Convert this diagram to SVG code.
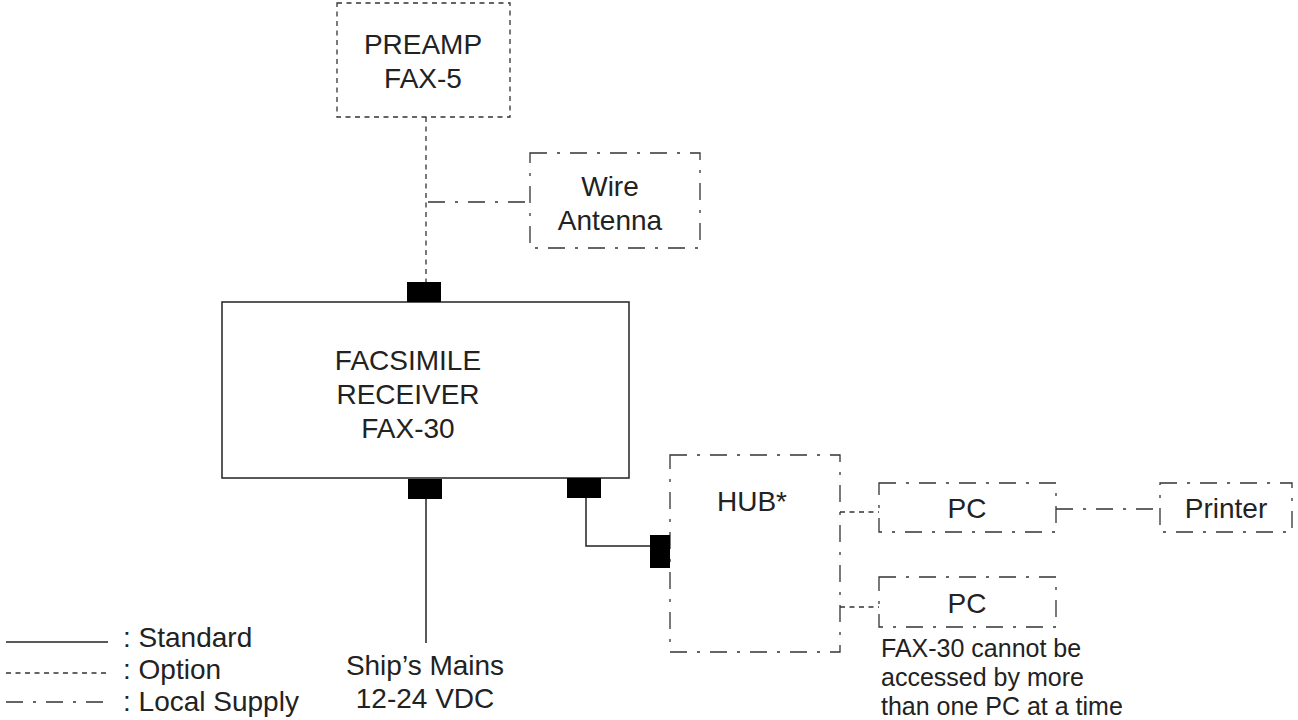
<svg xmlns="http://www.w3.org/2000/svg" width="1298" height="720" viewBox="0 0 1298 720">
<style>
text{font-family:"Liberation Sans",Arial,sans-serif;font-size:28px;fill:#222}
.note{font-size:25px}
.std{fill:none;stroke:#222;stroke-width:1.5}
.opt{fill:none;stroke:#333;stroke-width:1.3;stroke-dasharray:5 4.5}
.loc{fill:none;stroke:#333;stroke-width:1.3;stroke-dasharray:17 10 3 10}
.conn{fill:#000}
</style>
<rect width="1298" height="720" fill="#fff"/>
<g id="connectors">
<line class="opt" x1="426" y1="117" x2="426" y2="282"/>
<line class="loc" x1="428" y1="202" x2="530" y2="202"/>
<line class="std" x1="426" y1="499" x2="426" y2="643"/>
<polyline class="std" points="586,498 586,546 650,546"/>
<line class="opt" x1="840" y1="512" x2="879" y2="512"/>
<line class="opt" x1="840" y1="607" x2="879" y2="607"/>
<line class="loc" x1="1056" y1="509" x2="1160" y2="509"/>
</g>
<g id="preamp">
<rect class="opt" x="337" y="3" width="173" height="114"/>
<text x="423" y="54" text-anchor="middle">PREAMP</text>
<text x="423" y="88" text-anchor="middle">FAX-5</text>
</g>
<g id="wire-antenna">
<rect class="loc" x="530" y="153" width="170" height="95"/>
<text x="610" y="196" text-anchor="middle">Wire</text>
<text x="610" y="230" text-anchor="middle">Antenna</text>
</g>
<g id="receiver">
<rect class="std" x="222" y="302" width="407" height="176"/>
<text x="408" y="370" text-anchor="middle">FACSIMILE</text>
<text x="408" y="404" text-anchor="middle">RECEIVER</text>
<text x="408" y="438" text-anchor="middle">FAX-30</text>
<rect class="conn" x="407" y="282" width="34" height="20"/>
<rect class="conn" x="408" y="479" width="34" height="20"/>
<rect class="conn" x="567" y="478" width="34" height="20"/>
</g>
<g id="hub">
<rect class="loc" x="670" y="455" width="170" height="197"/>
<text x="752" y="511" text-anchor="middle">HUB*</text>
<rect class="conn" x="650" y="535" width="20" height="33"/>
</g>
<g id="pc1">
<rect class="loc" x="879" y="483" width="177" height="49"/>
<text x="967" y="518" text-anchor="middle">PC</text>
</g>
<g id="pc2">
<rect class="loc" x="879" y="577" width="177" height="50"/>
<text x="967" y="613" text-anchor="middle">PC</text>
</g>
<g id="printer">
<rect class="loc" x="1160" y="483" width="132" height="49"/>
<text x="1226" y="518" text-anchor="middle">Printer</text>
</g>
<g id="ships-mains">
<text x="425" y="675" text-anchor="middle">Ship’s Mains</text>
<text x="425" y="708" text-anchor="middle">12-24 VDC</text>
</g>
<g id="note">
<text class="note" x="881" y="657">FAX-30 cannot be</text>
<text class="note" x="881" y="686">accessed by more</text>
<text class="note" x="881" y="715">than one PC at a time</text>
</g>
<g id="legend">
<line class="std" x1="6" y1="642" x2="108" y2="642"/>
<line class="opt" x1="6" y1="673" x2="108" y2="673"/>
<line class="loc" x1="6" y1="702" x2="108" y2="702"/>
<text x="123" y="647">: Standard</text>
<text x="123" y="679">: Option</text>
<text x="123" y="711">: Local Supply</text>
</g>
</svg>
